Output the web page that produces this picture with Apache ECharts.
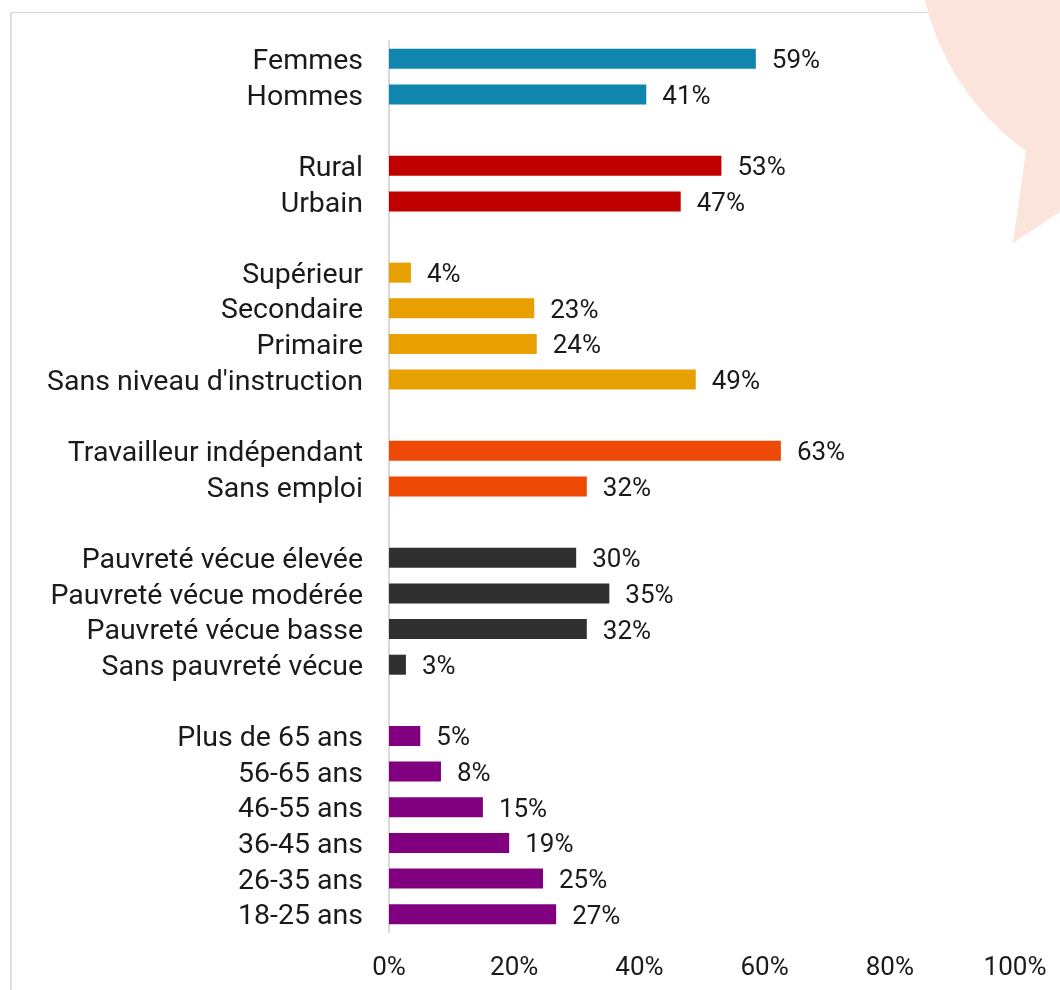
<!DOCTYPE html>
<html>
<head>
<meta charset="utf-8">
<script src="https://cdn.jsdelivr.net/npm/echarts@6/dist/echarts.min.js"></script>
<style>
  html, body { margin: 0; padding: 0; background: #fff; }
  #chart { width: 1060px; height: 990px; }
</style>
</head>
<body>
<div id="chart"></div>
<script>
// groups, top to bottom
const sexeLabels = ['Femmes', 'Hommes']
const sexeValues = [58.6, 41.1]
const milieuLabels = ['Rural', 'Urbain']
const milieuValues = [53.1, 46.6]
const educLabels = ['Supérieur', 'Secondaire', 'Primaire', "Sans niveau d'instruction"]
const educValues = [3.5, 23.2, 23.6, 49.0]
const emploiLabels = ['Travailleur indépendant', 'Sans emploi']
const emploiValues = [62.6, 31.6]
const pauvreteLabels = ['Pauvreté vécue élevée', 'Pauvreté vécue modérée', 'Pauvreté vécue basse', 'Sans pauvreté vécue']
const pauvreteValues = [29.9, 35.2, 31.6, 2.7]
const ageLabels = ['Plus de 65 ans', '56-65 ans', '46-55 ans', '36-45 ans', '26-35 ans', '18-25 ans']
const ageValues = [5.0, 8.3, 15.0, 19.2, 24.6, 26.7]

const groupColors = ['#1086ae', '#c00000', '#e8a000', '#ef4a05', '#2f2f2f', '#800080']

const groups = [
  [sexeLabels, sexeValues],
  [milieuLabels, milieuValues],
  [educLabels, educValues],
  [emploiLabels, emploiValues],
  [pauvreteLabels, pauvreteValues],
  [ageLabels, ageValues]
]

const FONT = 'Roboto'
const TEXT = '#1a1a1a'

let categories = []
let barData = []
groups.forEach(([labels, values], g) => {
  if (g > 0) {
    // empty row between groups
    categories.push(' '.repeat(g))
    barData.push('-')
  }
  labels.forEach((name, i) => {
    categories.push(name)
    barData.push({value: values[i], itemStyle: {color: groupColors[g]}})
  })
})

const chart = echarts.init(document.getElementById('chart'))

const option = {
  backgroundColor: '#ffffff',
  animation: false,
  textStyle: {fontFamily: FONT},
  graphic: [
    {type: 'line', z: -10, shape: {x1: 11, y1: 12.5, x2: 1060, y2: 12.5}, style: {stroke: '#dedede', lineWidth: 1.5}},
    {type: 'line', z: -10, shape: {x1: 11, y1: 12, x2: 11, y2: 990}, style: {stroke: '#dedede', lineWidth: 2}},
    {type: 'circle', z: -5, shape: {cx: 1176, cy: -59, r: 258}, style: {fill: '#fbe4dc'}},
    {type: 'polygon', z: -5, shape: {points: [[1020, 140], [1026, 150], [1013, 243], [1100, 185], [1100, 100]]}, style: {fill: '#fbe4dc'}}
  ],
  grid: {left: 389, right: 45, top: 41, bottom: 58},
  xAxis: {
    type: 'value',
    min: 0,
    max: 100,
    interval: 20,
    axisLine: {show: false},
    axisTick: {show: false},
    splitLine: {show: false},
    axisLabel: {
      formatter: '{value}%',
      fontSize: 26,
      color: TEXT,
      fontFamily: FONT,
      margin: 23
    }
  },
  yAxis: {
    type: 'category',
    inverse: true,
    data: categories,
    axisLine: {show: true, lineStyle: {color: '#d9d9d9', width: 2}},
    axisTick: {show: false},
    splitLine: {show: false},
    axisLabel: {
      interval: 0,
      hideOverlap: false,
      fontSize: 28.5,
      color: TEXT,
      fontFamily: FONT,
      margin: 26,
      verticalAlign: 'top',
      lineHeight: 6
    }
  },
  series: [
    {
      type: 'bar',
      barWidth: 20,
      data: barData,
      label: {
        show: true,
        position: 'right',
        distance: 16,
        offset: [0, 3],
        fontSize: 26,
        color: TEXT,
        fontFamily: FONT,
        formatter: (p) => Math.round(p.value) + '%'
      }
    }
  ]
}

chart.setOption(option)
</script>
</body>
</html>
